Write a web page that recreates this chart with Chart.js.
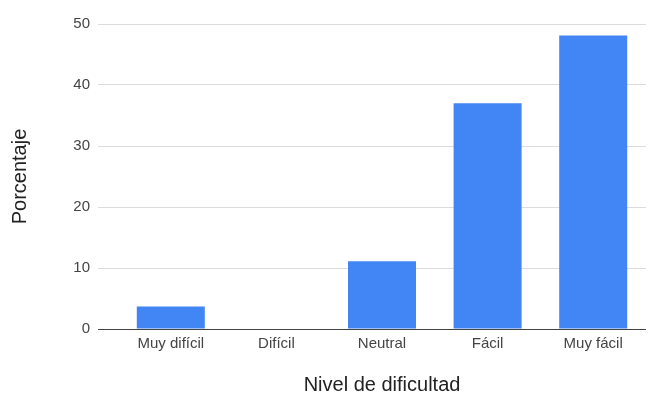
<!DOCTYPE html>
<html>
<head>
<meta charset="utf-8">
<script src="https://cdn.jsdelivr.net/npm/chart.js@4/dist/chart.umd.min.js"></script>
<style>
  html, body { margin: 0; padding: 0; background: #fff; }
  #wrap { width: 650px; height: 398px; }
</style>
</head>
<body>
<div id="wrap"><canvas id="c" width="650" height="398"></canvas></div>
<script>
// Survey answers: how hard was it (percent of respondents)
const categories = ['Muy difícil', 'Difícil', 'Neutral', 'Fácil', 'Muy fácil'];
const porcentaje = [3.7, 0, 11.1, 37.0, 48.1];
const yTicks = [0, 10, 20, 30, 40, 50];

const FONT = "'Liberation Sans', Arial, sans-serif";

new Chart(document.getElementById('c'), {
  type: 'bar',
  data: {
    labels: categories,
    datasets: [{
      label: 'Porcentaje',
      data: porcentaje,
      backgroundColor: '#4285F4',
      borderWidth: 0,
      barPercentage: 0.644,
      categoryPercentage: 1.0
    }]
  },
  options: {
    responsive: false,
    animation: false,
    devicePixelRatio: 1,
    layout: { padding: { top: 24, right: 4, bottom: 0, left: 0 } },
    plugins: { legend: { display: false }, tooltip: { enabled: false } },
    scales: {
      x: {
        grid: { display: false, drawTicks: false },
        border: { display: false },
        ticks: {
          color: '#444',
          padding: 6,
          maxRotation: 0,
          autoSkip: false,
          font: { family: FONT, size: 15 }
        },
        title: {
          display: true,
          text: 'Nivel de dificultad',
          color: '#222',
          font: { family: FONT, size: 20 },
          padding: { top: 0, bottom: 1 }
        },
        afterFit: (scale) => { scale.height = 69; }
      },
      y: {
        min: yTicks[0],
        max: yTicks[yTicks.length - 1],
        afterBuildTicks: (scale) => { scale.ticks = yTicks.map(v => ({ value: v })); },
        grid: {
          color: (ctx) => ctx.tick && ctx.tick.value === 0 ? '#444' : '#dcdcdc',
          tickColor: (ctx) => ctx.tick && ctx.tick.value === 0 ? '#444' : '#dcdcdc',
          lineWidth: 1,
          drawTicks: true,
          tickLength: 20
        },
        border: { display: false },
        ticks: {
          color: '#444',
          padding: 8,
          font: { family: FONT, size: 15 }
        },
        title: {
          display: true,
          text: 'Porcentaje',
          color: '#222',
          font: { family: FONT, size: 20 },
          padding: { top: 8, bottom: 0 }
        },
        afterFit: (scale) => { scale.width = 118; }
      }
    }
  }
});
</script>
</body>
</html>
